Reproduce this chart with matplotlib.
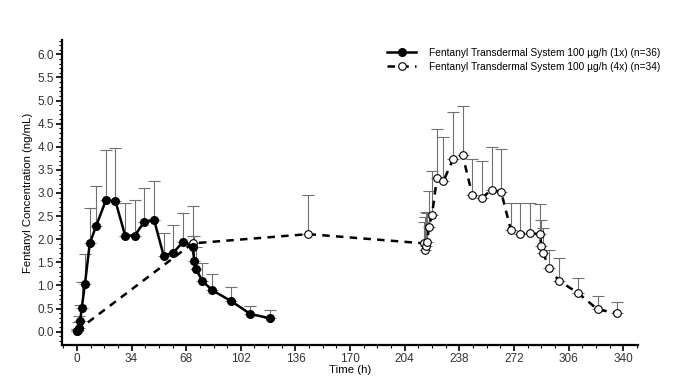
import numpy as np
import matplotlib
matplotlib.use('Agg')
import matplotlib.pyplot as plt
from matplotlib.ticker import AutoMinorLocator, MultipleLocator

plt.rcParams['font.family'] = ['Liberation Sans', 'DejaVu Sans']

# 100 ug/h single application (1x)
t_1x = [0, 0.5, 1, 2, 3, 5, 8, 12, 18, 24, 30, 36, 42, 48, 54, 60, 66, 72, 73, 74, 78, 84, 96, 108, 120]
c_1x = [0.02, 0.03, 0.08, 0.22, 0.51, 1.03, 1.91, 2.29, 2.84, 2.82, 2.08, 2.08, 2.38, 2.42, 1.64, 1.71,
        1.94, 1.84, 1.53, 1.36, 1.10, 0.90, 0.66, 0.38, 0.29]
top_1x = [0.05, 0.20, 0.33, 0.58, 1.08, 1.68, 2.68, 3.16, 3.92, 3.97, 2.78, 2.84, 3.11, 3.27, 2.14, 2.30,
          2.57, 2.72, 2.06, 1.84, 1.48, 1.24, 0.97, 0.56, 0.47]

# 100 ug/h multiple application (4x)
t_4x = [0, 72, 144, 216, 216.5, 217, 218, 219, 221, 224, 228, 234, 240, 246, 252, 258, 264, 270, 276,
        282, 288, 289, 290, 294, 300, 312, 324, 336]
c_4x = [0.02, 1.91, 2.11, 1.91, 1.77, 1.85, 1.95, 2.27, 2.53, 3.32, 3.25, 3.73, 3.82, 2.96, 2.89, 3.07,
        3.02, 2.20, 2.11, 2.13, 2.11, 1.86, 1.71, 1.37, 1.10, 0.83, 0.48, 0.40]
top_4x = [0.05, 2.06, 2.95, 2.38, 2.49, 2.58, 2.56, 3.05, 3.48, 4.39, 4.21, 4.76, 4.89, 3.74, 3.70, 3.99,
          3.95, 2.78, 2.79, 2.79, 2.76, 2.42, 2.24, 1.77, 1.60, 1.16, 0.77, 0.64]

x_ticks = [0, 34, 68, 102, 136, 170, 204, 238, 272, 306, 340]

fig = plt.figure(figsize=(6.78, 3.91), dpi=100)
ax = fig.add_axes([0.0914, 0.1176, 0.85, 0.78])

err_1x = [np.zeros(len(c_1x)), np.array(top_1x) - np.array(c_1x)]
err_4x = [np.zeros(len(c_4x)), np.array(top_4x) - np.array(c_4x)]

ax.errorbar(t_1x, c_1x, yerr=err_1x, fmt='none', ecolor='#707070', elinewidth=0.8,
            capsize=4, capthick=0.8, zorder=1)
ax.errorbar(t_4x, c_4x, yerr=err_4x, fmt='none', ecolor='#707070', elinewidth=0.8,
            capsize=4, capthick=0.8, zorder=1)

ax.plot(t_1x, c_1x, color='black', linewidth=1.8, marker='o', markersize=5.5,
        markerfacecolor='black', markeredgecolor='black', zorder=3,
        label='Fentanyl Transdermal System 100 \u00b5g/h (1x) (n=36)')
ax.plot(t_4x, c_4x, color='black', linewidth=1.8, linestyle=(0, (3, 2.5)), marker='o', markersize=5.5,
        markerfacecolor='white', markeredgecolor='black', markeredgewidth=0.8, zorder=2,
        label='Fentanyl Transdermal System 100 \u00b5g/h (4x) (n=34)')

ax.set_xlim(-9.3, 349.3)
ax.set_ylim(-0.29, 6.31)
ax.set_xticks(x_ticks)
ax.set_yticks(np.arange(0, 6.01, 0.5))
ax.set_yticklabels(['%.1f' % v for v in np.arange(0, 6.01, 0.5)])
ax.xaxis.set_minor_locator(AutoMinorLocator(4))
ax.yaxis.set_minor_locator(MultipleLocator(0.1))

for s in ['top', 'right']:
    ax.spines[s].set_visible(False)
for s in ['left', 'bottom']:
    ax.spines[s].set_linewidth(1.6)

ax.tick_params(axis='both', which='major', direction='out', length=4, width=1.2, labelsize=8.5,
               colors='black', labelcolor='#333333', pad=1.8)
ax.tick_params(axis='both', which='minor', direction='out', length=2, width=0.8)

ax.set_xlabel('Time (h)', fontsize=8.2, labelpad=0)
ax.set_ylabel('Fentanyl Concentration (ng/mL)', fontsize=8.2, labelpad=3)

leg = ax.legend(loc='upper left', bbox_to_anchor=(387 / 678, 1 - 48 / 391),
                bbox_transform=fig.transFigure, frameon=False, fontsize=7.3,
                borderpad=0, borderaxespad=0,
                handlelength=2.9, handletextpad=1.2, labelspacing=0.35)

plt.savefig('out.png', dpi=100)
